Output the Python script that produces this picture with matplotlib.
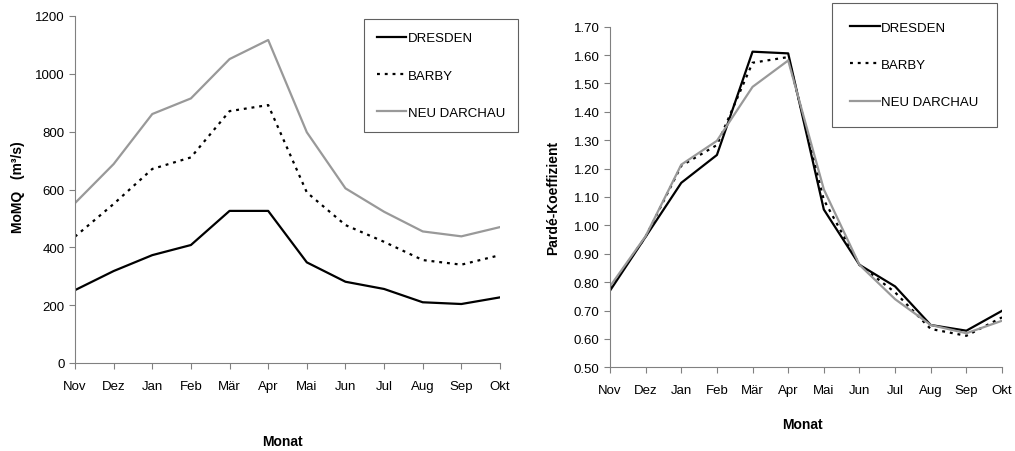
import matplotlib
matplotlib.use('Agg')
from matplotlib import pyplot as plt
from matplotlib.ticker import FormatStrFormatter

plt.rcParams['font.family'] = ['Liberation Sans', 'DejaVu Sans']

months = ['Nov', 'Dez', 'Jan', 'Feb', 'Mär', 'Apr', 'Mai', 'Jun', 'Jul', 'Aug', 'Sep', 'Okt']
stations = ['DRESDEN', 'BARBY', 'NEU DARCHAU']

# MoMQ in m³/s
momq_dresden = [252, 318, 373, 408, 526, 526, 348, 281, 256, 210, 204, 227]
momq_barby = [437, 550, 671, 711, 871, 892, 590, 477, 419, 356, 340, 373]
momq_darchau = [553, 688, 861, 915, 1051, 1117, 798, 604, 523, 455, 438, 470]

# Pardé-Koeffizient
parde_dresden = [0.77, 0.96, 1.15, 1.248, 1.612, 1.606, 1.056, 0.861, 0.785, 0.649, 0.629, 0.699]
parde_barby = [0.78, 0.96, 1.21, 1.283, 1.573, 1.593, 1.09, 0.861, 0.764, 0.635, 0.611, 0.676]
parde_darchau = [0.785, 0.962, 1.214, 1.298, 1.488, 1.581, 1.127, 0.861, 0.740, 0.649, 0.620, 0.664]

styles = [dict(color='black', lw=1.6, ls='-'),
          dict(color='black', lw=1.6, ls=(0, (1.3, 2.2))),
          dict(color='#999999', lw=1.6, ls='-')]

W, H = 1015, 452
fig = plt.figure(figsize=(W / 100, H / 100), dpi=100)


def px_axes(x0, x1, top, bottom):
    return fig.add_axes([x0 / W, 1 - bottom / H, (x1 - x0) / W, (bottom - top) / H])


def style_axes(ax):
    for side in ['top', 'right']:
        ax.spines[side].set_visible(False)
    for side in ['left', 'bottom']:
        ax.spines[side].set_color('#808080')
    ax.tick_params(colors='#808080', labelcolor='black', labelsize=9.5, length=4, width=0.8)
    ax.tick_params(axis='x', pad=8)
    ax.set_xticks(range(len(months)))
    ax.set_xticklabels(months)
    ax.set_xlim(0, len(months) - 1)


def draw_legend(ax, box, pad):
    leg = ax.legend(loc='upper left', bbox_to_anchor=box, bbox_transform=fig.transFigure,
                    frameon=True, fancybox=False, edgecolor='#606060', framealpha=1,
                    fontsize=9.5, handlelength=2.2, handletextpad=0.1, labelspacing=1.9,
                    borderpad=pad, borderaxespad=0)
    leg.get_frame().set_linewidth(0.8)


x = list(range(len(months)))

# left chart
ax1 = px_axes(75, 500, 17, 364)
for vals, st, name in zip([momq_dresden, momq_barby, momq_darchau], styles, stations):
    ax1.plot(x, vals, label=name, **st)
style_axes(ax1)
ax1.set_ylim(0, 1200)
ax1.set_yticks(range(0, 1201, 200))
ax1.set_ylabel('MoMQ   (m³/s)', fontsize=10, fontweight='bold')
ax1.yaxis.set_label_coords(-0.118, 0.51)
ax1.set_xlabel('Monat', fontsize=10, fontweight='bold')
ax1.xaxis.set_label_coords(0.487, -0.205)
draw_legend(ax1, (364 / W, 1 - 20 / H), 1.0)

# right chart
ax2 = px_axes(610, 1002, 27.7, 368.3)
for vals, st, name in zip([parde_dresden, parde_barby, parde_darchau], styles, stations):
    ax2.plot(x, vals, label=name, **st)
style_axes(ax2)
ax2.set_ylim(0.5, 1.7)
ax2.set_yticks([0.5 + 0.1 * i for i in range(13)])
ax2.yaxis.set_major_formatter(FormatStrFormatter('%.2f'))
ax2.set_ylabel('Pardé-Koeffizient', fontsize=10, fontweight='bold')
ax2.yaxis.set_label_coords(-0.126, 0.50)
ax2.set_xlabel('Monat', fontsize=10, fontweight='bold')
ax2.xaxis.set_label_coords(0.49, -0.145)
draw_legend(ax2, (832 / W, 1 - 4 / H), 1.4)

fig.savefig('out.png', dpi=100)
